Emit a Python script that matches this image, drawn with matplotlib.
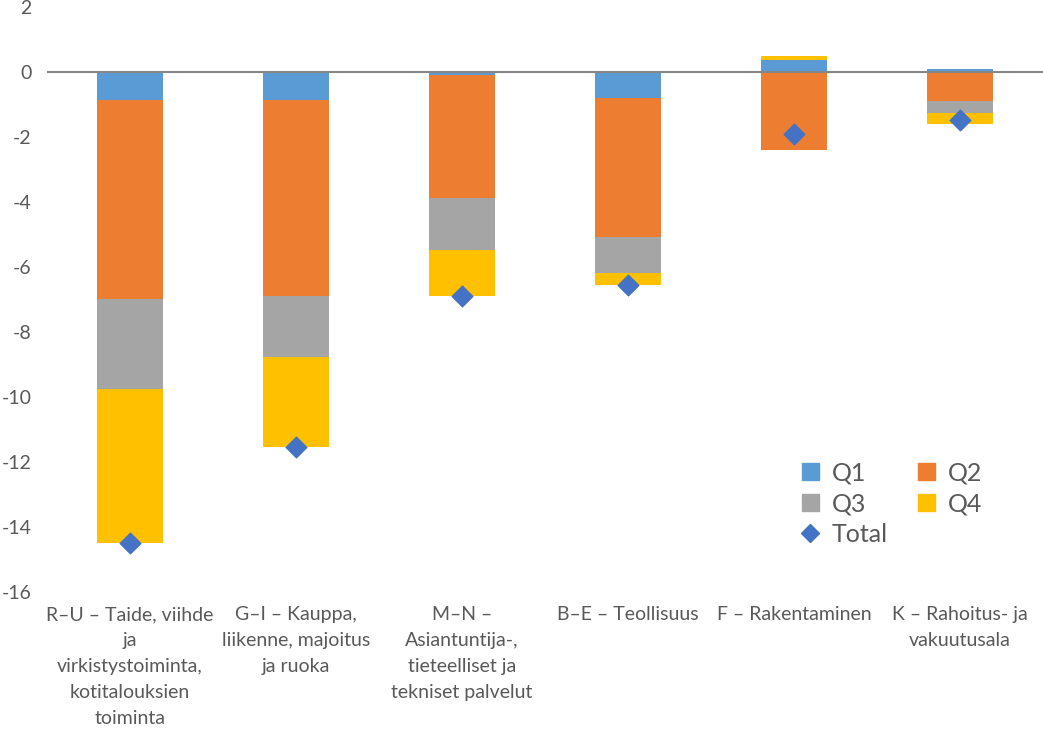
import numpy as np
import matplotlib
matplotlib.use("Agg")
import matplotlib.pyplot as plt
from matplotlib.lines import Line2D
from matplotlib.patches import Patch

# ==========================================================
# DATA
# ==========================================================
categories = [
    "R\u2013U \u2013 Taide, viihde\nja\nvirkistystoiminta,\nkotitalouksien\ntoiminta",
    "G\u2013I \u2013 Kauppa,\nliikenne, majoitus\nja ruoka",
    "M\u2013N \u2013\nAsiantuntija-,\ntieteelliset ja\ntekniset palvelut",
    "B\u2013E \u2013 Teollisuus",
    "F \u2013 Rakentaminen",
    "K \u2013 Rahoitus- ja\nvakuutusala",
]
q1 = [-0.85, -0.86, -0.10, -0.80, 0.37, 0.08]
q2 = [-6.12, -6.03, -3.78, -4.28, -2.40, -0.90]
q3 = [-2.77, -1.88, -1.60, -1.10, 0.00, -0.37]
q4 = [-4.74, -2.77, -1.41, -0.37, 0.12, -0.33]
total = [-14.5, -11.55, -6.9, -6.55, -1.9, -1.48]
yticks = list(range(-16, 3, 2))

series = [("Q1", q1, "#5B9BD5"), ("Q2", q2, "#ED7D31"),
          ("Q3", q3, "#A5A5A5"), ("Q4", q4, "#FFC000")]

# ==========================================================
# PLOT
# ==========================================================
plt.rcParams['font.family'] = ['Lato', 'DejaVu Sans']
grey = "#595959"

fig = plt.figure(figsize=(10.43, 7.30), dpi=100)
ax = fig.add_axes([47 / 1043, 1 - 592 / 730, 996 / 1043, 585 / 730])

x = np.arange(len(categories))
pos_base = np.zeros(len(categories))
neg_base = np.zeros(len(categories))
for name, vals, color in series:
    vals = np.array(vals)
    bottom = np.where(vals >= 0, pos_base, neg_base)
    ax.bar(x, vals, width=0.4, bottom=bottom, color=color, zorder=2)
    pos_base += np.where(vals >= 0, vals, 0)
    neg_base += np.where(vals < 0, vals, 0)

ax.scatter(x, total, marker="D", s=110, color="#4472C4", zorder=4)
ax.axhline(0, color="#868686", lw=1.5, zorder=3)

ax.set_xlim(-0.5, len(categories) - 0.5)
ax.set_ylim(-16, 2)
ax.set_yticks(yticks)
ax.set_yticklabels([str(v) for v in yticks])
ax.set_xticks(x)
ax.set_xticklabels(categories, linespacing=1.65)
ax.tick_params(axis="y", length=0, labelsize=14, labelcolor=grey, pad=11)
ax.tick_params(axis="x", length=0, labelsize=14, labelcolor=grey, pad=10)
for s in ax.spines.values():
    s.set_visible(False)

# legend filled column-wise -> rows read Q1 Q2 / Q3 Q4 / Total
handles = [
    Patch(color="#5B9BD5", label="Q1"),
    Patch(color="#A5A5A5", label="Q3"),
    Line2D([], [], marker="D", ls="", color="#4472C4", markersize=9, label="Total"),
    Patch(color="#ED7D31", label="Q2"),
    Patch(color="#FFC000", label="Q4"),
]
leg = ax.legend(handles=handles, ncol=2, frameon=False, fontsize=18,
                loc="upper left", bbox_to_anchor=(0.735, 0.262),
                handlelength=0.7, handleheight=0.7, handletextpad=0.5,
                columnspacing=1.2, labelspacing=0.32)
for t in leg.get_texts():
    t.set_color(grey)

plt.savefig("out.png", dpi=100)
plt.close()
